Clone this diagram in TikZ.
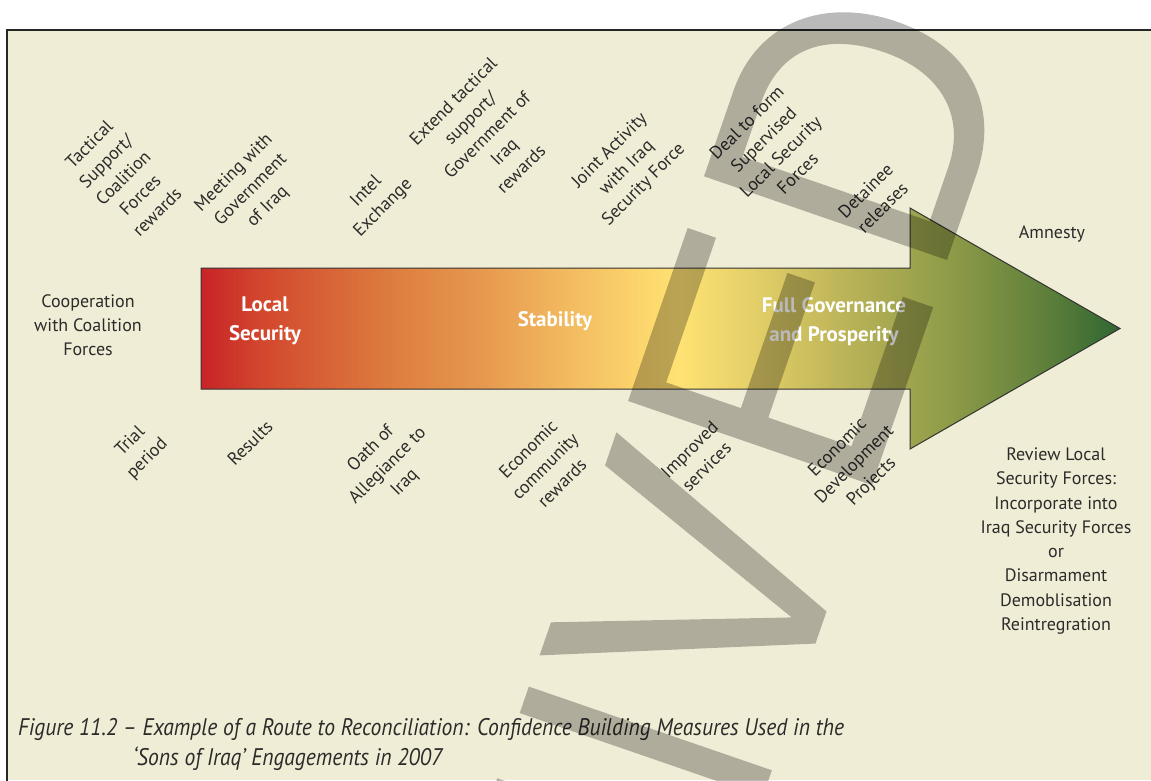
\documentclass[tikz,border=0pt]{standalone}
\usepackage{fontspec}
\setmainfont{PT Sans}
\newfontfamily\capfont[FakeStretch=0.9]{PT Sans}
\definecolor{bg}{RGB}{240,237,215}
\definecolor{txt}{RGB}{45,42,42}
\definecolor{g0}{RGB}{200,35,40}
\definecolor{g1}{RGB}{210,70,45}
\definecolor{g2}{RGB}{216,100,55}
\definecolor{g3}{RGB}{222,128,64}
\definecolor{g4}{RGB}{230,152,78}
\definecolor{g5}{RGB}{241,183,94}
\definecolor{g6}{RGB}{252,213,108}
\definecolor{g7}{RGB}{255,226,115}
\definecolor{g8}{RGB}{225,205,103}
\definecolor{g9}{RGB}{185,178,87}
\definecolor{g10}{RGB}{142,155,72}
\definecolor{g11}{RGB}{92,126,58}
\definecolor{g12}{RGB}{48,102,50}
\pgfdeclarehorizontalshading{arrowgrad}{100bp}{color(0bp)=(g0); color(25bp)=(g0); color(28.2bp)=(g1); color(32bp)=(g2); color(35.85bp)=(g3); color(40.2bp)=(g4); color(44.5bp)=(g5); color(48.9bp)=(g6); color(51bp)=(g7); color(55.4bp)=(g8); color(60.3bp)=(g9); color(65.75bp)=(g10); color(71.2bp)=(g11); color(75bp)=(g12); color(100bp)=(g12)}
\begin{document}
\begin{tikzpicture}[x=1pt,y=-1pt,
  lab/.style={font=\fontsize{18}{24}\selectfont, text=txt, align=center, inner sep=0pt},
  rlab/.style={lab, rotate=45},
  blab/.style={font=\bfseries\fontsize{21}{29}\selectfont, text=white, align=center, inner sep=0pt},
  caplab/.style={font=\capfont\itshape\fontsize{24}{30}\selectfont, text=txt, anchor=base west, inner sep=0pt},
  wmframe/.style={x={(0.3256pt,0.9455pt)}, y={(-0.9455pt,0.3256pt)}},
  wmark/.style={fill=black, fill opacity=0.27}]
\useasboundingbox (0,0) rectangle (1151,780);
\fill[white] (0,0) rectangle (1151,780);
\fill[bg] (7,30) rectangle (1151,780);
\draw[line width=1.6pt, black!85] (7,781) -- (7,30) -- (1152,30);

% big arrow
\path[shading=arrowgrad, draw=black!80, line width=1pt]
  (201,268) -- (910,268) -- (910,208) -- (1120,328.5) -- (910,449) -- (910,389) -- (201,389) -- cycle;

% labels
\node[lab] (coop) at (88,325) {Cooperation\\with Coalition\\Forces};
\node[rlab] (tact) at (123,178) {Tactical\\Support/\\Coalition\\Forces\\rewards};
\node[rlab] (meet) at (251,190) {Meeting with\\Government\\of Iraq};
\node[rlab] (intel) at (375,200) {Intel\\Exchange};
\node[rlab] (ext) at (487,135) {Extend tactical\\support/\\Government of\\Iraq\\rewards};
\node[rlab] (joint) at (627,168) {Joint Activity\\with Iraq\\Security Force};
\node[rlab] (deal) at (772,148) {Deal to form\\Supervised\\Local Security\\Forces};
\node[rlab] (det) at (874,199) {Detainee\\releases};
\node[lab] (amn) at (1052,234) {Amnesty};

\node[rlab] (trial) at (139,450) {Trial\\period};
\node[rlab] (res) at (250,443) {Results};
\node[rlab] (oath) at (388,466) {Oath of\\Allegiance to\\Iraq};
\node[rlab] (econ) at (545,466) {Economic\\community\\rewards};
\node[rlab] (impr) at (698,458) {Improved\\services};
\node[rlab] (edev) at (855,465) {Economic\\Development\\Projects};
\node[lab, font=\fontsize{18}{24.3}\selectfont] (rev) at (1056,541) {Review Local\\Security Forces:\\Incorporate into\\Iraq Security Forces\\or\\Disarmament\\Demoblisation\\Reintregration};

\node[blab] (loc) at (265,321) {Local\\Security};
\node[blab] (stab) at (555,321) {Stability};
\node[blab] (full) at (834,322) {Full Governance\\and Prosperity};

\node[caplab] (cap1) at (18,735) {Figure 11.2 – Example of a Route to Reconciliation: Confidence Building Measures Used in the};
\node[caplab] (cap2) at (133,765) {‘Sons of Iraq’ Engagements in 2007};

% watermark letters
\begin{scope}
\clip (0,0) rectangle (1151,780);
\begin{scope}[shift={(821,627.5)}, wmframe]
  \fill[wmark] (-278,0) -- (-248,0) -- (-248,257) -- (-278,257) -- cycle;
  \fill[wmark] (-179,0) -- (-151,0) -- (-151,257) -- (-179,257) -- cycle;
  \fill[wmark] (-17,0) -- (17,0) -- (118,257) -- (83,257) -- (0,31) -- (-83,257) -- (-118,257) -- cycle;
\end{scope}
\begin{scope}[shift={(872,485)}, wmframe]
  \fill[wmark] (0,0) -- (188,0) -- (188,32) -- (30,32) -- (30,120) -- (173,120) -- (173,149) -- (30,149) -- (30,228) -- (183,228) -- (183,258) -- (0,258) -- cycle;
\end{scope}
\begin{scope}[shift={(947,260)}, wmframe]
  \fill[wmark, even odd rule] (0,0) -- (0,257) -- (90,257) .. controls (165,257) and (209,200) .. (209,125) .. controls (209,50) and (165,0) .. (90,0) -- cycle
    (31,29) -- (31,227) -- (88,227) .. controls (145,227) and (176,190) .. (176,127) .. controls (176,70) and (145,29) .. (88,29) -- cycle;
\end{scope}
\end{scope}
\end{tikzpicture}
\end{document}
